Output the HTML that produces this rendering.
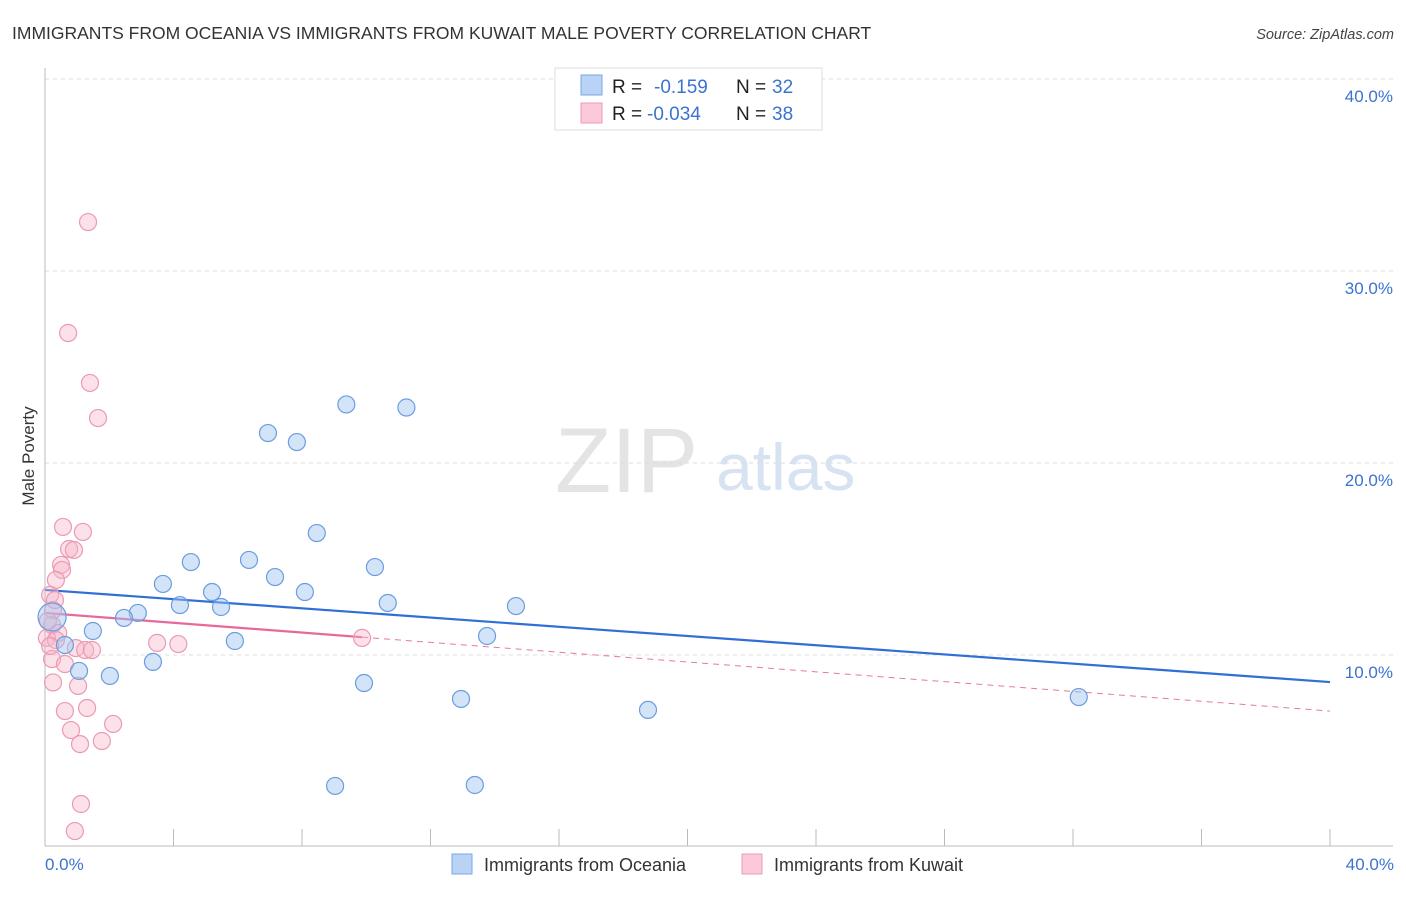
<!DOCTYPE html>
<html><head><meta charset="utf-8"><style>
body{margin:0;background:#fff;font-family:"Liberation Sans",sans-serif}
svg text{font-family:"Liberation Sans",sans-serif}
</style></head><body>
<svg id="chart" width="1406" height="892" xmlns="http://www.w3.org/2000/svg">
<text x="12" y="39" font-size="17.5" fill="#333">IMMIGRANTS FROM OCEANIA VS IMMIGRANTS FROM KUWAIT MALE POVERTY CORRELATION CHART</text>
<text x="1394" y="39" font-size="14.5" fill="#444" font-style="italic" text-anchor="end">Source: ZipAtlas.com</text>
<text x="555" y="492" font-size="92" fill="#e4e4e4" font-family="Liberation Serif">ZIP</text>
<text x="716" y="490" font-size="66" fill="#d7e3f3">atlas</text>
<g id="grid"></g>
<g id="axes"></g>
<g id="lines"></g>
<g id="points"></g>
<text transform="translate(34,456) rotate(-90)" font-size="17" fill="#333" text-anchor="middle">Male Poverty</text>
<text x="45" y="870" font-size="17" fill="#3b73d0">0.0%</text>
<text x="1394" y="870" font-size="17" fill="#3b73d0" text-anchor="end">40.0%</text>
<g>
<rect x="555" y="68" width="267" height="62" fill="#fff" stroke="#ddd"/>
<rect x="581" y="75" width="21" height="20" fill="#b9d3f5" stroke="#7aa6e6"/>
<rect x="581" y="103" width="21" height="20" fill="#fbc9d8" stroke="#ee9ab5"/>
<text x="612" y="93" font-size="19" fill="#222">R =</text>
<text x="654" y="93" font-size="19" fill="#3b73d0">-0.159</text>
<text x="736" y="93" font-size="19" fill="#222">N =</text>
<text x="772" y="93" font-size="19" fill="#3b73d0">32</text>
<text x="612" y="120" font-size="19" fill="#222">R =</text>
<text x="647" y="120" font-size="19" fill="#3b73d0">-0.034</text>
<text x="736" y="120" font-size="19" fill="#222">N =</text>
<text x="772" y="120" font-size="19" fill="#3b73d0">38</text>
</g>
<g>
<rect x="452" y="854" width="20" height="20" fill="#b9d3f5" stroke="#7aa6e6"/>
<text x="484" y="871" font-size="18" fill="#333">Immigrants from Oceania</text>
<rect x="742" y="854" width="20" height="20" fill="#fbc9d8" stroke="#ee9ab5"/>
<text x="774" y="871" font-size="18" fill="#333">Immigrants from Kuwait</text>
</g>
</svg>
<script>
const yTicks=[10,20,30,40];
const yTickLabels=["10.0%","20.0%","30.0%","40.0%"];
const oceaniaX=[9.38,11.25,6.94,7.84,8.46,4.54,6.35,10.27,3.67,7.16,5.2,8.09,4.2,5.48,10.67,14.66,2.89,2.46,1.49,13.76,5.91,3.36,1.06,2.02,9.93,12.95,18.77,32.18,9.03,13.38,0.22,0.62];
const oceaniaY=[23.05,22.89,21.56,21.09,16.35,14.84,14.95,14.58,13.7,14.06,13.28,13.28,12.6,12.5,12.71,12.55,12.19,11.93,11.25,10.99,10.73,9.64,9.17,8.91,8.54,7.71,7.14,7.81,3.18,3.23,11.98,10.52];
const kuwaitX=[1.34,0.72,1.4,1.65,0.56,1.18,0.75,0.9,0.5,0.53,0.34,0.16,0.25,0.22,0.41,0.06,0.34,0.96,1.25,1.46,0.22,0.62,3.49,4.15,9.87,0.25,1.03,1.31,0.62,0.81,2.12,1.77,1.09,1.12,0.93,0.16,0.09,0.31];
const kuwaitY=[32.55,26.77,24.17,22.34,16.67,16.41,15.52,15.47,14.69,14.43,13.91,13.13,12.34,11.56,11.15,10.89,10.78,10.36,10.26,10.26,9.79,9.53,10.63,10.57,10.89,8.57,8.39,7.24,7.08,6.09,6.41,5.52,5.36,2.24,0.83,10.47,11.77,12.86];
const oceaniaTrend=[13.39,8.59];
const kuwaitTrend=[12.19,7.08];
const kuwaitSolidEnd=9.87;
const NS="http://www.w3.org/2000/svg";
const xs=v=>45+v/40*1285, ys=v=>847-v*19.2;
function mk(t,a,p){const e=document.createElementNS(NS,t);for(const k in a)e.setAttribute(k,a[k]);document.getElementById(p).appendChild(e);return e;}
yTicks.forEach((t,i)=>{
 const g=mk('line',{x1:45,x2:1393,y1:ys(t),y2:ys(t),stroke:'#ddd','stroke-dasharray':'4,4'},'grid');
 
 
 const l=mk('text',{x:1393,y:ys(t)+23,'font-size':17,fill:'#3b73d0','text-anchor':'end'},'grid');
 l.textContent=yTickLabels[i];
 
 
});
const ax=mk('line',{x1:45,x2:45,y1:68,y2:846,stroke:'#bbb'},'axes');


const bx=mk('line',{x1:45,x2:1393,y1:846,y2:846,stroke:'#bbb'},'axes');


for(let i=0;i<=10;i++){const t=mk('line',{x1:xs(i*4),x2:xs(i*4),y1:829,y2:846,stroke:'#bbb'},'axes');
 
 }
let l1=mk('line',{x1:xs(0),y1:ys(oceaniaTrend[0]),x2:xs(40),y2:ys(oceaniaTrend[1]),stroke:'#2f6fd6','stroke-width':2.2},'lines');


const kAt=x=>kuwaitTrend[0]+(kuwaitTrend[1]-kuwaitTrend[0])*x/40;
let l2=mk('line',{x1:xs(kuwaitSolidEnd),y1:ys(kAt(kuwaitSolidEnd)),x2:xs(40),y2:ys(kuwaitTrend[1]),stroke:'#e8789c','stroke-width':1,'stroke-dasharray':'6,5'},'lines');


let l3=mk('line',{x1:xs(0),y1:ys(kuwaitTrend[0]),x2:xs(kuwaitSolidEnd),y2:ys(kAt(kuwaitSolidEnd)),stroke:'#e8689a','stroke-width':2.2},'lines');


kuwaitX.forEach((x,i)=>{const c=mk('circle',{cx:xs(x),cy:ys(kuwaitY[i]),r:8.5,fill:'rgba(248,180,200,0.4)',stroke:'#eb9ab4','stroke-width':1.2},'points');
 
 });
oceaniaX.forEach((x,i)=>{const c=mk('circle',{cx:xs(x),cy:ys(oceaniaY[i]),r:i==30?14:8.5,fill:'rgba(160,195,240,0.45)',stroke:'#6a9de0','stroke-width':1.2},'points');
 
 });
</script>
</body></html>
